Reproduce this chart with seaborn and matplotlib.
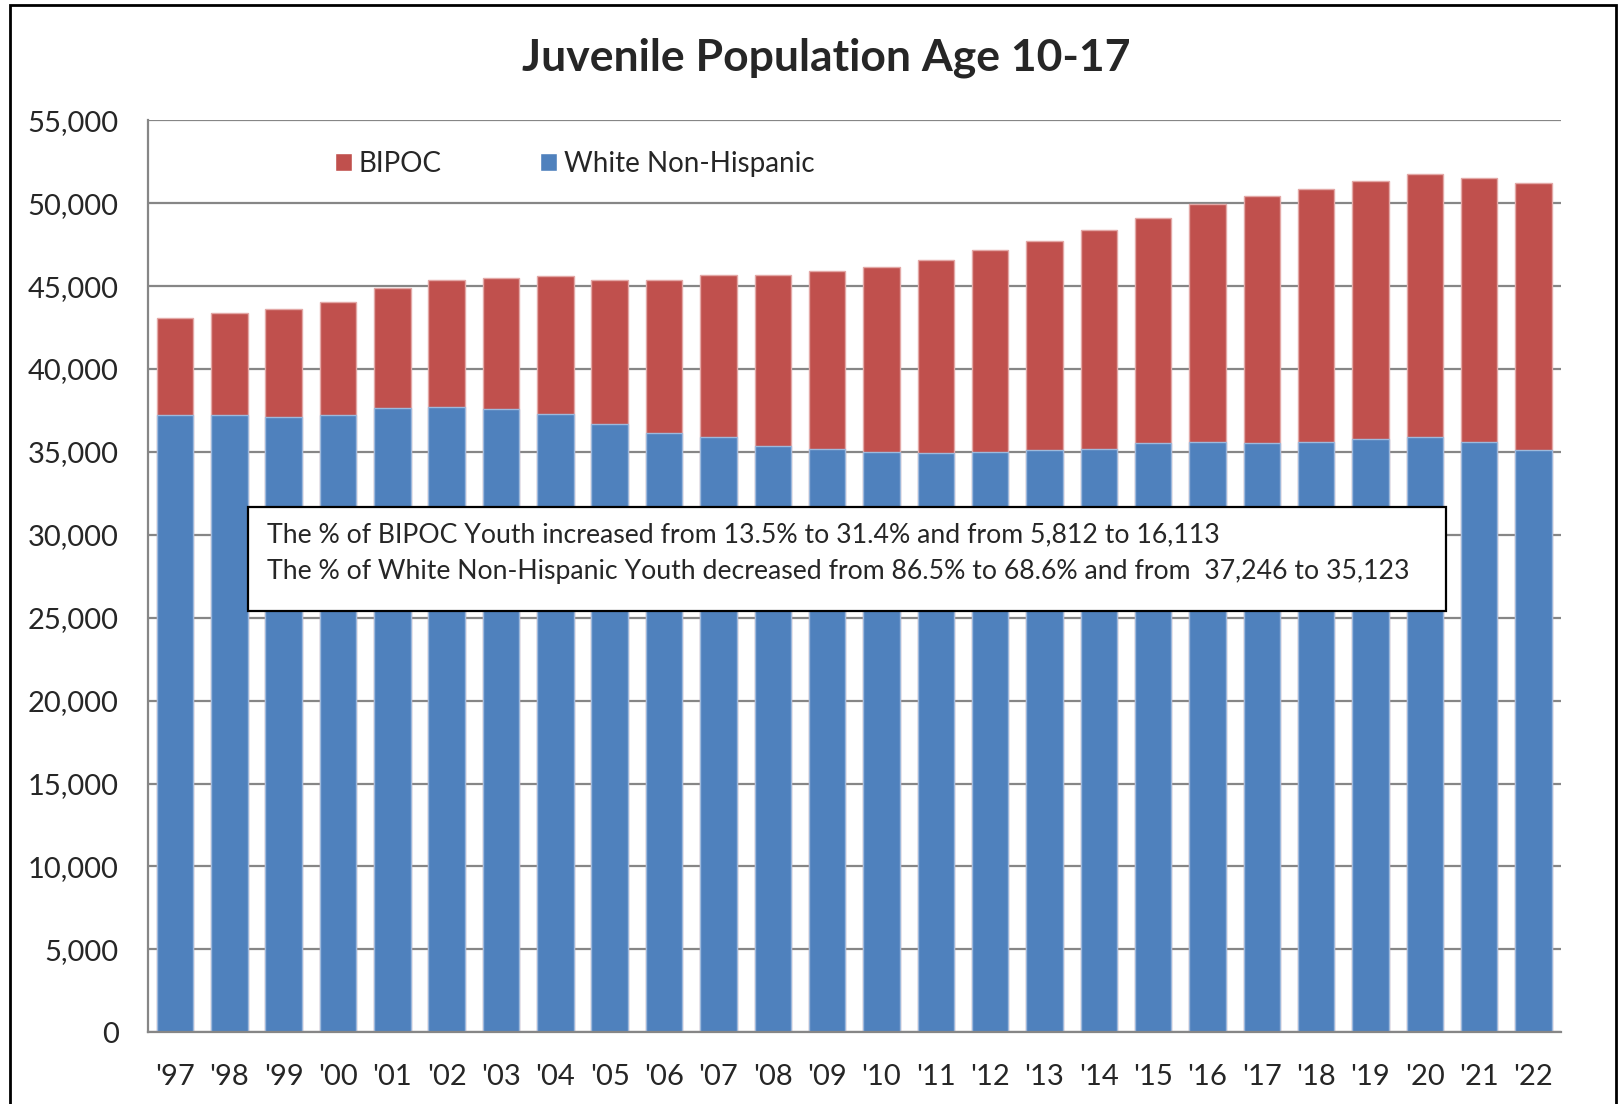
import numpy as np
import pandas as pd
import matplotlib.pyplot as plt
import seaborn as sns
from matplotlib.patches import Patch, Rectangle

# data
years = ["'97", "'98", "'99", "'00", "'01", "'02", "'03", "'04", "'05", "'06", "'07", "'08", "'09",
         "'10", "'11", "'12", "'13", "'14", "'15", "'16", "'17", "'18", "'19", "'20", "'21", "'22"]
white = [37246, 37240, 37120, 37240, 37660, 37720, 37600, 37280, 36690, 36150, 35910, 35360, 35180,
         35020, 34940, 35020, 35100, 35200, 35520, 35620, 35540, 35600, 35760, 35880, 35580, 35123]
bipoc = [5812, 6150, 6510, 6830, 7220, 7640, 7920, 8320, 8660, 9210, 9740, 10290, 10710,
         11130, 11630, 12150, 12650, 13170, 13580, 14340, 14900, 15280, 15610, 15890, 15920, 16113]
yticks = list(range(0, 55001, 5000))

note_lines = [
    "The % of BIPOC Youth increased from 13.5% to 31.4% and from 5,812 to 16,113",
    "The % of White Non-Hispanic Youth decreased from 86.5% to 68.6% and from  37,246 to 35,123",
]

red = "#C0504D"
blue = "#4F81BD"
grid_gray = "#868686"

df = pd.DataFrame({"year": years, "white": white, "bipoc": bipoc})
df["total"] = df["white"] + df["bipoc"]

sns.set_style("white")
plt.rcParams["font.family"] = ["Lato", "DejaVu Sans"]

fig = plt.figure(figsize=(16.24, 11.04), dpi=100)
ax = fig.add_axes([0.091, 0.065, 0.870, 0.826])

# stacked bars: total in red, white on top of it in blue
sns.barplot(data=df, x="year", y="total", color=red, saturation=1, width=0.67,
            edgecolor="#E3A8A6", linewidth=1, ax=ax, zorder=3)
sns.barplot(data=df, x="year", y="white", color=blue, saturation=1, width=0.67,
            edgecolor="#9DB9DC", linewidth=1, ax=ax, zorder=4)

ax.set_ylim(0, 55000)
ax.set_xlim(-0.5, len(years) - 0.5)
ax.set_yticks(yticks)
ax.set_yticklabels([f"{v:,}" for v in yticks])
ax.set_xlabel("")
ax.set_ylabel("")
ax.tick_params(axis="y", length=0, pad=21, labelsize=21)
ax.tick_params(axis="x", length=0, pad=23, labelsize=21)

ax.grid(axis="y", color=grid_gray, linewidth=1.6, zorder=0)
ax.set_axisbelow(True)
for side in ["top", "right"]:
    ax.spines[side].set_visible(False)
for side in ["left", "bottom"]:
    ax.spines[side].set_color(grid_gray)
    ax.spines[side].set_linewidth(1.6)
    ax.spines[side].set_zorder(5)

handles = [Patch(facecolor=red, label="BIPOC"), Patch(facecolor=blue, label="White Non-Hispanic")]
ax.legend(handles=handles, loc="center left", bbox_to_anchor=(0.115, 0.952), ncol=2,
          frameon=False, fontsize=20, handlelength=0.6, handleheight=0.6,
          handletextpad=0.25, columnspacing=3.55)

# text box with the summary
ax.add_patch(Rectangle((0.0708, 0.4616), 0.848, 0.1141, transform=ax.transAxes,
                       facecolor="white", edgecolor="black", linewidth=1.6, zorder=6))
ax.text(0.0842, 0.545, note_lines[0], transform=ax.transAxes, fontsize=19.2,
        va="center", ha="left", zorder=7)
ax.text(0.0842, 0.5055, note_lines[1], transform=ax.transAxes, fontsize=19.2,
        va="center", ha="left", zorder=7)

fig.text(0.509, 0.948, "Juvenile Population Age 10-17", ha="center", va="center",
         fontsize=32, fontweight="bold")

# outer chart border
fig.patches.append(Rectangle((0.006, -0.01), 0.989, 1.0055, transform=fig.transFigure,
                             fill=False, edgecolor="black", linewidth=2))

fig.savefig("out.png", dpi=100)
